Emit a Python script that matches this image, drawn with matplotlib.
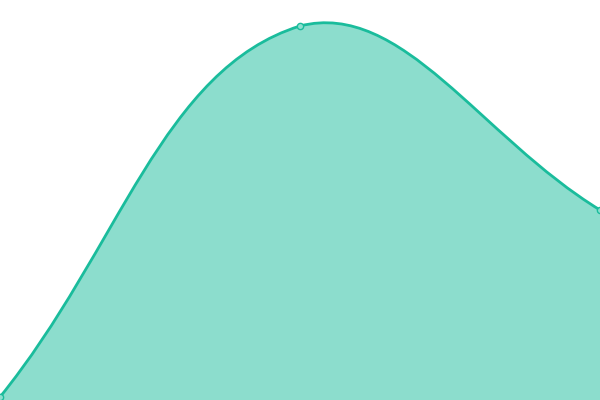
import numpy as np
import matplotlib
matplotlib.use("Agg")
import matplotlib.pyplot as plt
from matplotlib.path import Path
from matplotlib.patches import PathPatch

labels = ["A", "B", "C"]
values = [3, 374, 190]

line_color = "#1abc9c"
tension = 0.4

fig = plt.figure(figsize=(6, 4), dpi=100)
ax = fig.add_axes([0, 0, 1, 1])
ax.set_xlim(0, len(labels) - 1)
ax.set_ylim(0, 400)
ax.axis("off")

# work in pixel space so the spline matches a canvas-style tension curve
pts = ax.transData.transform(np.column_stack([np.arange(len(values)), values]))
n = len(pts)
ctrl_prev = np.zeros_like(pts)
ctrl_next = np.zeros_like(pts)
for i in range(n):
    cur = pts[i]
    prev = pts[i - 1] if i > 0 else cur
    nxt = pts[i + 1] if i < n - 1 else cur
    d01 = np.hypot(*(cur - prev))
    d12 = np.hypot(*(nxt - cur))
    tot = d01 + d12
    s01 = d01 / tot if tot else 0
    s12 = d12 / tot if tot else 0
    ctrl_prev[i] = cur - tension * s01 * (nxt - prev)
    ctrl_next[i] = cur + tension * s12 * (nxt - prev)

# keep control points inside the plot area
bb = ax.bbox
for c in (ctrl_prev, ctrl_next):
    c[:, 0] = np.clip(c[:, 0], bb.x0, bb.x1)
    c[:, 1] = np.clip(c[:, 1], bb.y0, bb.y1)

verts = [pts[0]]
codes = [Path.MOVETO]
for i in range(n - 1):
    verts += [ctrl_next[i], ctrl_prev[i + 1], pts[i + 1]]
    codes += [Path.CURVE4] * 3

inv = ax.transData.inverted()
data_verts = inv.transform(np.array(verts))
line_path = Path(data_verts, codes)

fill_verts = list(data_verts) + [(len(values) - 1, 0), (0, 0), data_verts[0]]
fill_codes = codes + [Path.LINETO, Path.LINETO, Path.CLOSEPOLY]
ax.add_patch(PathPatch(Path(fill_verts, fill_codes), facecolor=line_color,
                       alpha=0.5, edgecolor="none"))
ax.add_patch(PathPatch(line_path, facecolor="none", edgecolor=line_color,
                       linewidth=2.0, capstyle="round", joinstyle="round"))
ax.plot(range(len(values)), values, linestyle="none", marker="o", markersize=4.5,
        markerfacecolor="#8ddfcf", markeredgecolor=line_color,
        markeredgewidth=1, clip_on=False)

fig.savefig("out.png", dpi=100)
